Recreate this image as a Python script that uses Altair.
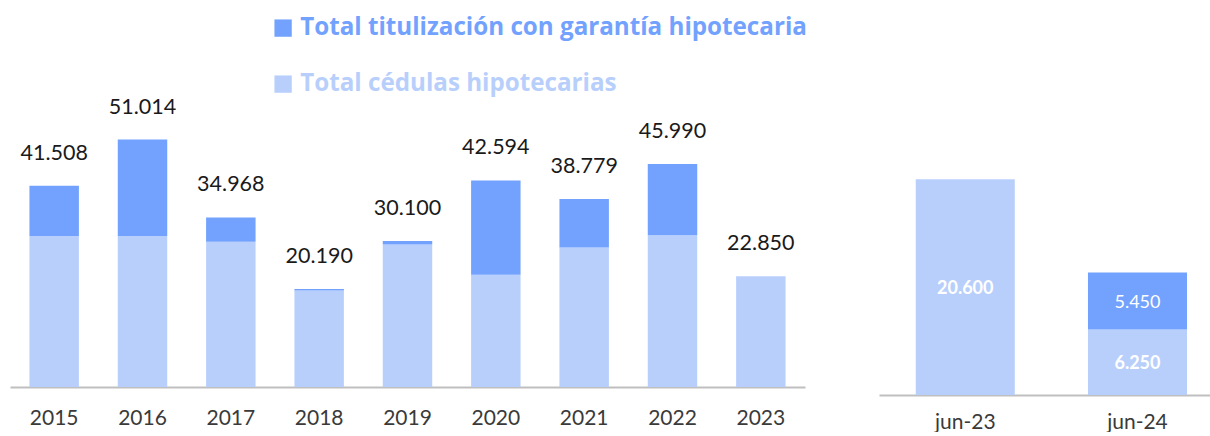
import altair as alt
import pandas as pd

# ---- data ----
years = ["2015", "2016", "2017", "2018", "2019", "2020", "2021", "2022", "2023"]
cedulas = [31160, 31160, 29930, 19910, 29400, 23140, 28760, 31310, 22850]
titulizacion = [10348, 19854, 5038, 280, 700, 19454, 10019, 14680, 0]
totals = [41508, 51014, 34968, 20190, 30100, 42594, 38779, 45990, 22850]

periods = ["jun-23", "jun-24"]
cedulas_h1 = [20600, 6250]
titulizacion_h1 = [0, 5450]

series = ["Total titulización con garantía hipotecaria", "Total cédulas hipotecarias"]
colors = ["#72A2FD", "#B8CFFC"]

FONT = "Lato"
LEGEND_FONT = "Open Sans"

rows = []
for y, c, t in zip(years, cedulas, titulizacion):
    rows.append({"cat": y, "serie": series[1], "value": c, "orden": 0})
    rows.append({"cat": y, "serie": series[0], "value": t, "orden": 1})
df_left = pd.DataFrame(rows)
df_tot = pd.DataFrame({"cat": years, "total": totals})

rows = []
for p, c, t in zip(periods, cedulas_h1, titulizacion_h1):
    rows.append({"cat": p, "serie": series[1], "value": c, "orden": 0})
    rows.append({"cat": p, "serie": series[0], "value": t, "orden": 1})
df_right = pd.DataFrame(rows)

fmt = "replace(format(datum.{f}, ','), ',', '.')"

color_enc = alt.Color(
    "serie:N",
    scale=alt.Scale(domain=series, range=colors),
    legend=alt.Legend(
        orient="none",
        legendX=261,
        legendY=16,
        direction="vertical",
        title=None,
        symbolType="square",
        symbolSize=300,
        symbolStrokeWidth=0,
        labelFont=LEGEND_FONT,
        labelFontSize=24.2,
        labelFontWeight="bold",
        labelOffset=5,
        rowPadding=31,
        padding=0,
        labelLimit=800,
        labelColor={"expr": "datum.value == 'Total cédulas hipotecarias' ? '#B8CFFC' : '#72A2FD'"},
    ),
)

axis_common = dict(
    title=None,
    labelAngle=0,
    ticks=False,
    tickSize=0,
    grid=False,
    domainColor="#BFBFBF",
    domainWidth=2,
    labelFont=FONT,
    labelFontSize=21,
    labelColor="#3A3A3A",
    labelBaseline="middle",
)

x_left = alt.X(
    "cat:N",
    sort=years,
    scale=alt.Scale(paddingInner=0.44, paddingOuter=0.22),
    axis=alt.Axis(labelPadding=31, **axis_common),
)

left_bars = alt.Chart(df_left).mark_bar().encode(
    x=x_left,
    y=alt.Y("value:Q", stack="zero", scale=alt.Scale(domain=[0, 79800], nice=False), axis=None),
    color=color_enc,
    order=alt.Order("orden:Q", sort="ascending"),
)

left_text = (
    alt.Chart(df_tot)
    .transform_calculate(lbl=fmt.format(f="total"))
    .mark_text(dy=-32, font=FONT, fontSize=21.5, color="#1A1A1A")
    .encode(
        x=alt.X("cat:N", sort=years),
        y=alt.Y("total:Q"),
        text="lbl:N",
    )
)

left = alt.layer(left_bars, left_text).properties(width=795, height=387)

x_right = alt.X(
    "cat:N",
    sort=periods,
    scale=alt.Scale(paddingInner=0.425, paddingOuter=0.1735, align=0.615),
    axis=alt.Axis(labelPadding=27, **axis_common),
)

right_bars = alt.Chart(df_right).mark_bar().encode(
    x=x_right,
    y=alt.Y("value:Q", stack="zero", scale=alt.Scale(domain=[0, 37720], nice=False), axis=None),
    color=color_enc,
    order=alt.Order("orden:Q", sort="ascending"),
)

right_base = (
    alt.Chart(df_right)
    .transform_stack(
        stack="value",
        as_=["y0", "y1"],
        groupby=["cat"],
        sort=[alt.SortField("orden", order="ascending")],
    )
    .transform_calculate(mid="(datum.y0 + datum.y1) / 2", lbl=fmt.format(f="value"))
    .transform_filter("datum.value > 0")
)

right_text_ced = (
    right_base.transform_filter(alt.datum.orden == 0)
    .mark_text(font=FONT, fontSize=18, fontWeight="bold", color="white", baseline="middle", dy=2)
    .encode(x=alt.X("cat:N", sort=periods), y=alt.Y("mid:Q"), text="lbl:N")
)
right_text_tit = (
    right_base.transform_filter(alt.datum.orden == 1)
    .mark_text(font=FONT, fontSize=18, fontWeight="normal", color="white", baseline="middle", dy=2)
    .encode(x=alt.X("cat:N", sort=periods), y=alt.Y("mid:Q"), text="lbl:N")
)

right = alt.layer(right_bars, right_text_ced, right_text_tit).properties(width=331, height=395)

chart = (
    alt.hconcat(left, right, spacing=74)
    .properties(padding={"left": 10, "top": 0, "right": 0, "bottom": 0})
    .configure_view(stroke=None)
)

chart.save("out.html", embed_options={"renderer": "svg", "actions": False})
